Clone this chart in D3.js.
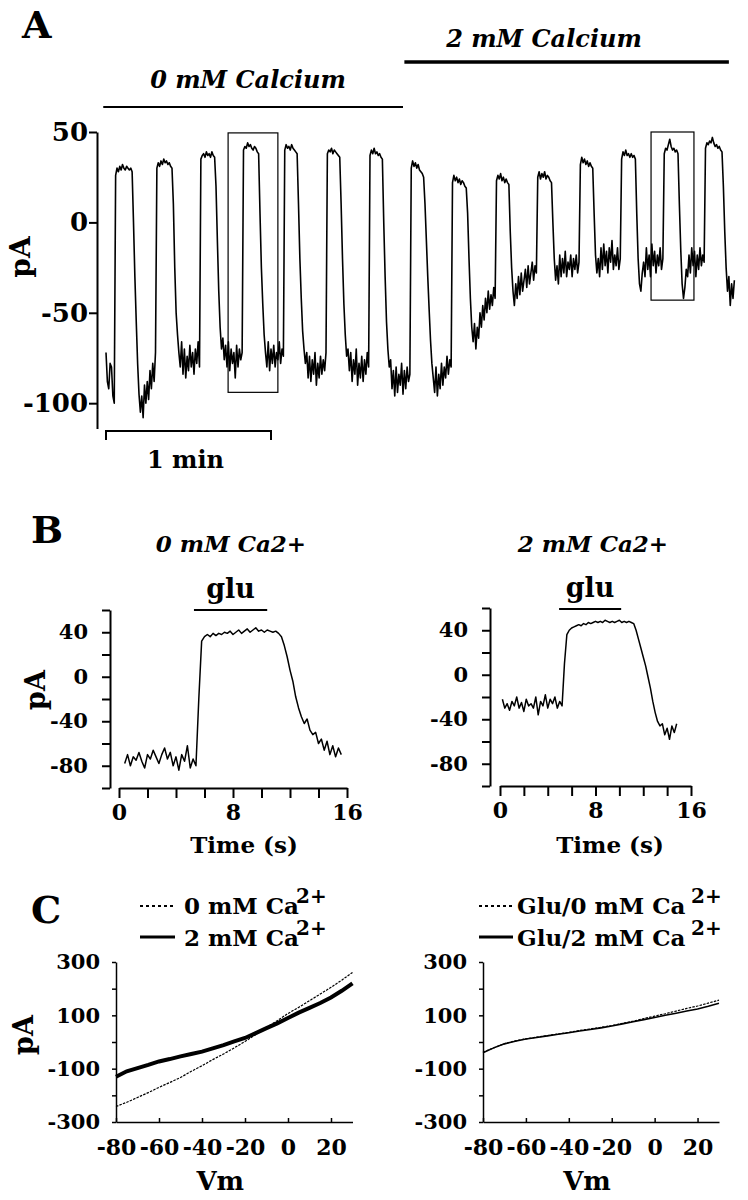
<!DOCTYPE html>
<html><head><meta charset="utf-8">
<script src="https://cdn.jsdelivr.net/npm/d3@7"></script>
<style>
body{margin:0;background:#fff;}
svg text{font-family:"DejaVu Serif",serif;font-weight:bold;fill:#000;}
</style></head><body>
<svg id="fig" width="748" height="1200" style="background:#fff"></svg>
<script>
// ---------------- DATA ----------------
// Panel A: continuous recording, current (pA) sampled every 0.5 s from t = 0 s
const traceAStep = 0.5;
const traceA = [
 -72,-88,-92,-78,-80,-96,-100,
 26,30,28,31,29,32,30,29,31,30,29,30,28,
 0,-30,-55,-78,-95,-105,-96,-108,-90,-100,-88,-98,-82,-92,-78,-88,-72,
 30,33,31,34,32,35,33,34,32,33,31,30,
 10,-25,-50,-62,-72,-80,-66,-84,-70,-86,-74,-82,-68,-80,-72,-84,-70,-78,-66,-80,
 35,37,38,36,39,37,38,36,39,37,36,
 20,-10,-38,-58,-70,-64,-76,-68,-80,-66,-82,-70,-78,-72,-86,-68,-80,-70,-76,-72,
 40,42,41,44,42,43,41,40,42,41,39,38,
 5,-25,-45,-62,-72,-80,-66,-82,-70,-78,-68,-80,-72,-76,-66,-78,-70,-74,
 40,43,41,42,40,43,41,40,39,38,
 10,-20,-42,-60,-70,-78,-72,-86,-74,-88,-76,-84,-72,-90,-78,-86,-74,-84,-76,-82,-72,
 38,40,39,41,38,40,39,38,37,36,
 10,-20,-45,-62,-74,-70,-82,-72,-88,-76,-84,-70,-90,-78,-86,-74,-88,-76,-84,-72,-80,
 37,40,38,41,38,39,37,38,36,35,
 0,-30,-55,-70,-80,-76,-92,-82,-96,-80,-94,-84,-90,-78,-95,-82,-92,-80,-88,-84,
 30,34,31,33,30,32,29,28,27,25,
 10,-10,-30,-48,-65,-78,-86,-94,-80,-96,-84,-92,-78,-90,-80,-86,-74,-84,-76,-80,
 22,26,23,25,22,24,21,23,22,20,19,
 5,-20,-42,-58,-66,-56,-70,-58,-64,-50,-58,-46,-54,-42,-50,-38,-48,-40,-46,-36,-42,
 23,26,24,27,23,25,22,24,22,21,
 -5,-25,-38,-46,-34,-42,-30,-40,-28,-38,-32,-26,-36,-24,-34,-28,-22,-32,-24,-28,
 25,28,24,27,25,28,24,26,25,23,22,
 0,-20,-32,-24,-34,-18,-30,-20,-28,-16,-30,-22,-26,-18,-30,-20,-26,-18,-28,-22,
 32,36,33,35,32,34,31,33,31,30,
 5,-18,-28,-20,-30,-14,-26,-12,-24,-16,-28,-14,-22,-10,-26,-18,-24,-14,-26,-20,
 35,39,37,40,37,38,36,38,36,37,35,
 5,-20,-34,-38,-28,-22,-30,-14,-26,-18,-30,-12,-24,-16,-28,-18,-24,-14,-26,-20,
 38,41,40,43,46,42,40,41,39,40,38,
 10,-15,-34,-42,-36,-26,-30,-18,-28,-14,-24,-16,-30,-18,-26,-14,-24,-18,-22,
 41,44,43,45,44,47,44,42,43,41,42,40,39,
 20,-5,-25,-38,-30,-46,-34,-42,-32
];
const ticksA = [50, 0, -50, -100];
const conditionsA = [
  {label: "0 mM Calcium", start: -1, end: 108},
  {label: "2 mM Calcium", start: 108.5, end: 226.5}
];
const boxesA = [
  {t0: 44.4, t1: 62.5, v0: -94, v1: 49.5},
  {t0: 198.2, t1: 213.8, v0: -43, v1: 50}
];
const scaleBarA = {t0: 0, t1: 60, label: "1 min"};

// Panel B: single responses, sampled every 0.2 s
const traceB0Start = 0.4, traceB2Start = 0.2, traceBStep = 0.2;
const traceB0 = [
 -78,-70,-80,-72,-75,-68,-76,-82,-70,-74,-66,-72,-78,-70,-64,-74,-68,-80,-72,-84,-70,-76,-62,-82,-74,-80,
 -20,32,36,38,36,39,37,39,38,40,39,41,38,40,42,39,41,43,40,42,44,41,42,40,42,41,40,41,39,
 36,28,18,6,-4,-18,-28,-36,-42,-38,-48,-52,-50,-60,-56,-66,-58,-70,-62,-72,-64,-70
];
const traceB2 = [
 -22,-30,-26,-32,-24,-28,-20,-30,-25,-33,-22,-28,-26,-30,-20,-36,-24,-28,-18,-30,-22,-26,-20,-30,-24,-28,
 10,36,40,42,43,44,45,44,46,45,47,46,47,48,47,48,47,49,48,47,48,47,48,49,47,48,47,48,47,46,
 40,32,24,16,8,-2,-12,-24,-34,-42,-46,-44,-54,-48,-58,-46,-52,-44
];
const gluB0 = {start: 5.26, end: 10.4};
const gluB2 = {start: 4.95, end: 10.15};
const ticksBy = [-100,-80,-60,-40,-20,0,20,40,60];
const labelsBy = [40, 0, -40, -80];
const ticksBx = [0,2,4,6,8,10,12,14,16];
const labelsBx = [0, 8, 16];

// Panel C: I-V relations (Vm in mV, current in pA)
const vmC = [-80,-75,-70,-65,-60,-55,-50,-45,-40,-35,-30,-25,-20,-15,-10,-5,0,5,10,15,20,25,30];
const ivCa0 = [-242,-226,-208,-190,-170,-152,-133,-110,-89,-66,-45,-22,2,28,54,80,107,130,155,180,205,232,261];
const ivCa2 = [-130,-110,-98,-86,-73,-64,-54,-45,-36,-24,-12,2,15,33,52,70,90,110,128,146,167,192,220];
const ivGlu0 = [-38,-22,-6,4,12,18,24,30,36,43,49,55,62,70,78,88,97,106,116,126,135,146,157];
const ivGlu2 = [-40,-22,-7,3,11,17,23,29,35,41,47,53,60,68,76,84,92,100,108,116,124,134,145];
const ticksCy = [-300,-200,-100,0,100,200,300];
const labelsCy = [300, 100, -100, -300];
const ticksCx = [-80,-60,-40,-20,0,20];

// ---------------- DRAWING ----------------
const svg = d3.select("#fig");
svg.append("rect").attr("width",748).attr("height",1200).attr("fill","#fff");
const F = "DejaVu Serif";
const fmt = d => String(d);   // plain hyphen-minus as in the figure

function styleAxis(g, fs, sw) {
  g.attr("font-family", F).attr("font-size", fs).attr("font-weight", "bold");
  g.selectAll("path,line").attr("stroke", "#000").attr("stroke-width", sw || 2);
  g.selectAll("text").attr("fill", "#000");
}
function txt(x, y, s, fs, opts) {
  opts = opts || {};
  const t = svg.append("text").attr("x", x).attr("y", y).attr("font-size", fs)
    .attr("text-anchor", opts.anchor || "start").text(s);
  if (opts.italic) t.attr("font-style", "italic");
  if (opts.rotate) t.attr("transform", `rotate(-90 ${x} ${y})`);
  return t;
}

// ----- Panel A -----
txt(22, 38, "A", 38);
const xA = d3.scaleLinear().domain([0, 228]).range([106, 733]);
const yA = d3.scaleLinear().domain([-114, 50]).range([428.5, 132]);
const lineA = d3.line().x((d, i) => xA(i * traceAStep)).y(d => yA(d));
svg.append("path").datum(traceA).attr("d", lineA)
  .attr("fill", "none").attr("stroke", "#000").attr("stroke-width", 1.6).attr("stroke-linejoin", "round");
const gA = svg.append("g").attr("transform", "translate(97,0)")
  .call(d3.axisLeft(yA).tickValues(ticksA).tickSize(8).tickSizeOuter(0).tickPadding(1).tickFormat(fmt));
styleAxis(gA, 26);
txt(30, 257, "pA", 28, {anchor: "middle", rotate: true});

const condY = [107, 62], condW = [2, 3.5], condTextY = [88, 47], condTextX = [248, 544];
conditionsA.forEach((c, i) => {
  svg.append("line").attr("x1", xA(c.start)).attr("x2", xA(c.end)).attr("y1", condY[i]).attr("y2", condY[i])
    .attr("stroke", "#000").attr("stroke-width", condW[i]);
  txt(condTextX[i], condTextY[i], c.label, 24, {anchor: "middle", italic: true});
});
boxesA.forEach(b => {
  svg.append("rect").attr("x", xA(b.t0)).attr("y", yA(b.v1))
    .attr("width", xA(b.t1) - xA(b.t0)).attr("height", yA(b.v0) - yA(b.v1))
    .attr("fill", "none").attr("stroke", "#000").attr("stroke-width", 1.2);
});
svg.append("path")
  .attr("d", `M${xA(scaleBarA.t0)},440V431H${xA(scaleBarA.t1)}V440`)
  .attr("fill", "none").attr("stroke", "#000").attr("stroke-width", 2);
txt((xA(scaleBarA.t0) + xA(scaleBarA.t1)) / 2 - 3, 468, scaleBarA.label, 24, {anchor: "middle"});

// ----- Panel B -----
txt(31, 543, "B", 38);
function panelB(o) {
  const x = d3.scaleLinear().domain([0, 16]).range(o.xr);
  const y = d3.scaleLinear().domain([-100, 60]).range(o.yr);
  const gy = svg.append("g").attr("transform", `translate(${o.ax},0)`)
    .call(d3.axisLeft(y).tickValues(ticksBy).tickSize(8).tickSizeOuter(0).tickPadding(14)
      .tickFormat(d => labelsBy.includes(d) ? String(d) : ""));
  styleAxis(gy, 21);
  const gx = svg.append("g").attr("transform", `translate(0,${o.yr[0]})`)
    .call(d3.axisBottom(x).tickValues(ticksBx).tickSize(10).tickSizeOuter(0).tickPadding(6)
      .tickFormat(d => labelsBx.includes(d) ? String(d) : ""));
  styleAxis(gx, 22);
  const line = d3.line().x((d, i) => x(o.t0 + i * traceBStep)).y(d => y(d));
  svg.append("path").datum(o.data).attr("d", line)
    .attr("fill", "none").attr("stroke", "#000").attr("stroke-width", 1.5).attr("stroke-linejoin", "round");
  svg.append("line").attr("x1", x(o.glu.start)).attr("x2", x(o.glu.end))
    .attr("y1", o.gluY).attr("y2", o.gluY).attr("stroke", "#000").attr("stroke-width", 2);
  txt((x(o.glu.start) + x(o.glu.end)) / 2, o.gluY - 12, "glu", 27, {anchor: "middle"});
  txt(o.titleX, 552, o.title, 23, {anchor: "middle", italic: true});
  txt(o.timeX, 853, "Time (s)", 23, {anchor: "middle"});
}
panelB({xr: [119, 347], yr: [788, 610], ax: 110, data: traceB0, t0: traceB0Start, glu: gluB0, gluY: 610,
        title: "0 mM Ca2+", titleX: 231, timeX: 244});
panelB({xr: [500, 691], yr: [786, 608], ax: 490, data: traceB2, t0: traceB2Start, glu: gluB2, gluY: 609,
        title: "2 mM Ca2+", titleX: 593, timeX: 610});
txt(45, 690, "pA", 27, {anchor: "middle", rotate: true});

// ----- Panel C -----
txt(31, 923, "C", 38);
function panelC(o) {
  const x = d3.scaleLinear().domain([-80, 30]).range(o.xr);
  const y = d3.scaleLinear().domain([-300, 300]).range([1122, 962]);
  const gy = svg.append("g").attr("transform", `translate(${o.xr[0]},0)`)
    .call(d3.axisLeft(y).tickValues(ticksCy).tickSize(4).tickSizeOuter(0).tickPadding(12)
      .tickFormat(d => labelsCy.includes(d) ? String(d) : ""));
  styleAxis(gy, 21, 1.5);
  const gx = svg.append("g").attr("transform", "translate(0,1122)")
    .call(d3.axisBottom(x).tickValues(ticksCx).tickSize(-4).tickSizeOuter(0).tickPadding(17).tickFormat(fmt));
  styleAxis(gx, 22, 1.5);
  const line = d3.line().x((d, i) => x(vmC[i])).y(d => y(d));
  svg.append("path").datum(o.dotted).attr("d", line).attr("fill", "none")
    .attr("stroke", "#000").attr("stroke-width", 1.2).attr("stroke-dasharray", "2.5,1.2");
  svg.append("path").datum(o.solid).attr("d", line).attr("fill", "none")
    .attr("stroke", "#000").attr("stroke-width", o.solidW);
  // legend
  const L = o.legend;
  svg.append("line").attr("x1", L.x0).attr("x2", L.x1).attr("y1", 906).attr("y2", 906)
    .attr("stroke", "#000").attr("stroke-width", 2).attr("stroke-dasharray", "3,3");
  svg.append("line").attr("x1", L.x0).attr("x2", L.x1).attr("y1", 937).attr("y2", 937)
    .attr("stroke", "#000").attr("stroke-width", 3);
  txt(L.tx, 914, L.labels[0], 23);
  txt(L.sx, 903, "2+", 20);
  txt(L.tx, 946, L.labels[1], 23);
  txt(L.sx, 935, "2+", 20);
  txt((o.xr[0] + o.xr[1]) / 2 - 14, 1190, "Vm", 26, {anchor: "middle"});
}
panelC({xr: [116, 352.5], dotted: ivCa0, solid: ivCa2, solidW: 4,
  legend: {x0: 140, x1: 175, tx: 184, sx: 296, labels: ["0 mM Ca", "2 mM Ca"]}});
panelC({xr: [483, 719], dotted: ivGlu0, solid: ivGlu2, solidW: 1.6,
  legend: {x0: 479, x1: 513, tx: 517, sx: 691, labels: ["Glu/0 mM Ca", "Glu/2 mM Ca"]}});
txt(33, 1035, "pA", 27, {anchor: "middle", rotate: true});
</script>
</body></html>
